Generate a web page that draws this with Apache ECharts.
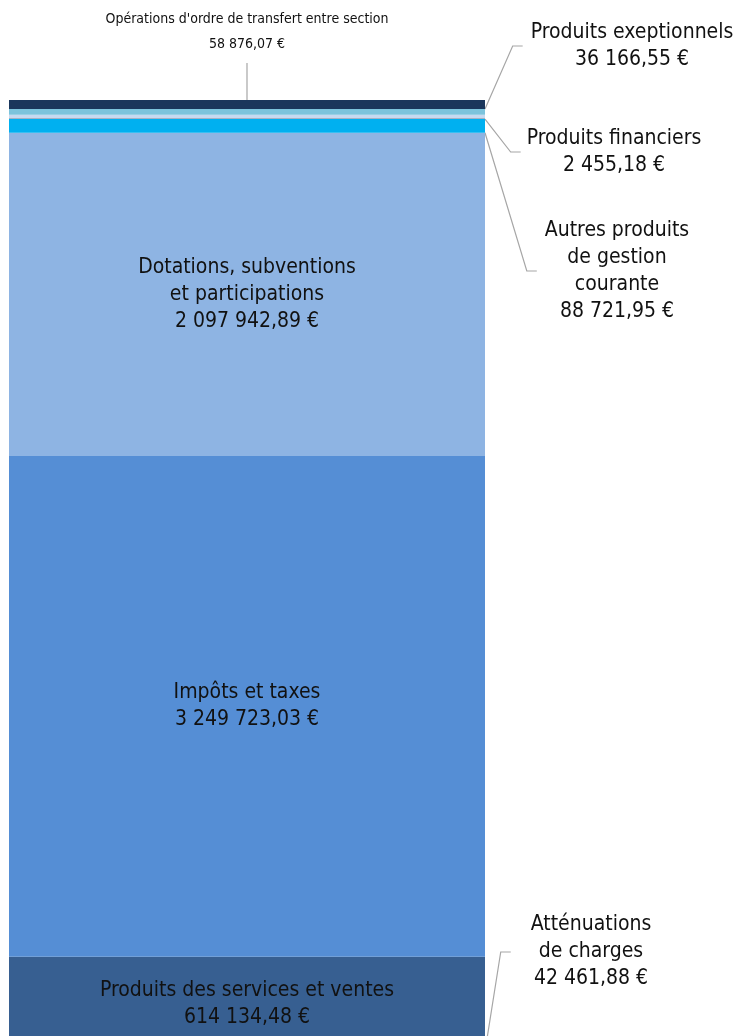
<!DOCTYPE html>
<html>
<head>
<meta charset="utf-8">
<script src="https://cdn.jsdelivr.net/npm/echarts@6/dist/echarts.min.js"></script>
<style>
  html, body { margin: 0; padding: 0; background: #fff; overflow: hidden; }
  /* the bar runs past the bottom of the window, as in the original */
  #chart { width: 735px; height: 1060px; }
</style>
</head>
<body>
<div id="chart"></div>
<script>
// segments from bottom to top of the stacked bar
const categories = ['Recettes de fonctionnement'];
const seriesNames = [
  'Atténuations de charges',
  'Produits des services et ventes',
  'Impôts et taxes',
  'Dotations, subventions et participations',
  'Autres produits de gestion courante',
  'Produits financiers',
  'Non libellé',
  'Produits exeptionnels',
  "Opérations d'ordre de transfert entre section"
];
const labelTexts = [
  'Atténuations\nde charges',
  'Produits des services et ventes',
  'Impôts et taxes',
  'Dotations, subventions\net participations',
  'Autres produits\nde gestion\ncourante',
  'Produits financiers',
  '',
  'Produits exeptionnels',
  "Opérations d'ordre de transfert entre section"
];
const values = [42461.88, 614134.48, 3249723.03, 2097942.89, 88721.95, 2455.18, 26000, 36166.55, 58876.07];

const colors = ['#24466f', '#375f91', '#558ed5', '#8eb4e3', '#00b0f0', '#3d3d3d', '#c6d9f0', '#7cc3dc', '#1a365c'];
// where the outside labels sit (null = inside the segment), and the gap before their guide line
const labelSpots = [
  [591, 952], null, null, null, [617, 271], [614, 152], null, [632, 46], [247, 32]
];
const labelGaps = [20, 0, 0, 0, 8, 6, 0, 8, 0];

const FONT = "'Liberation Sans Narrow', 'DejaVu Sans Condensed', 'Roboto Condensed', sans-serif";

function euro(v) {
  const [i, d] = v.toFixed(2).split('.');
  return i.replace(/\B(?=(\d{3})+(?!\d))/g, ' ') + ',' + d + ' €';
}

const total = values.reduce((a, b) => a + b, 0);

const chart = echarts.init(document.getElementById('chart'), null, { renderer: 'canvas' });

const series = values.map((v, idx) => {
  const spot = labelSpots[idx];
  const small = idx === 8;
  const gap = labelGaps[idx];
  const s = {
    name: seriesNames[idx],
    type: 'bar',
    stack: 'total',
    barWidth: '100%',
    data: [v],
    itemStyle: { color: colors[idx] },
    label: {
      show: labelTexts[idx] !== '',
      position: 'inside',
      formatter: () => labelTexts[idx] + '\n' + euro(v),
      color: '#111',
      fontFamily: FONT,
      fontSize: small ? 14 : 21,
      lineHeight: small ? 25 : 27,
      align: 'center'
    }
  };
  if (idx === 5) s.barMinHeight = 1;
  if (small) s.label.padding = [0, 0, 12, 0];
  else if (gap) s.label.padding = [0, 0, 0, gap];
  if (spot) {
    s.labelLayout = { x: spot[0] - gap / 2, y: spot[1], align: 'center', verticalAlign: 'middle' };
    s.labelLine = { show: true, length2: 10, lineStyle: { color: '#a6a6a6', width: 1.2 } };
  }
  return s;
});

chart.setOption({
  animation: false,
  grid: { left: 9, right: 250, top: 100, bottom: 2 },
  xAxis: { type: 'category', data: categories, show: false },
  yAxis: { type: 'value', min: 0, max: total, show: false },
  series: series
});
</script>
</body>
</html>
